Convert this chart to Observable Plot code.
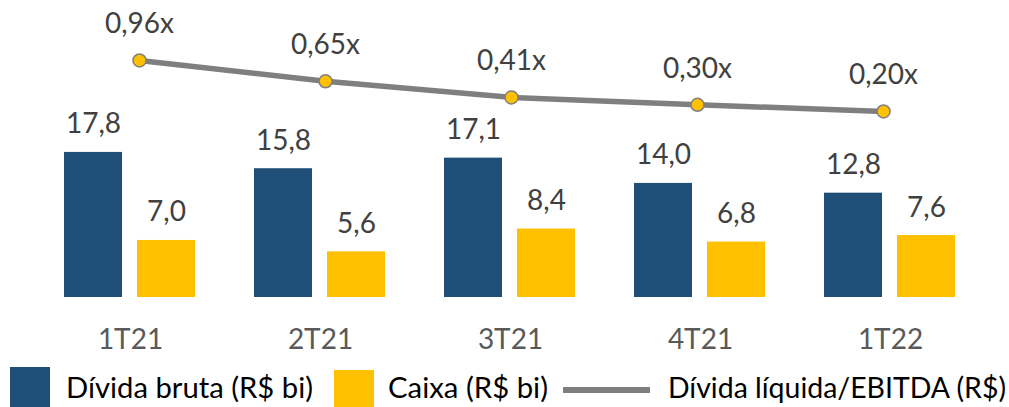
<!DOCTYPE html>
<html><head><meta charset="utf-8">
<script src="https://cdn.jsdelivr.net/npm/d3@7"></script>
<script src="https://cdn.jsdelivr.net/npm/@observablehq/plot@0.6"></script>
<style>
body{margin:0;background:#fff;font-family:Lato, sans-serif;}
#wrap{position:relative;width:1009px;height:407px;overflow:hidden;background:#fff;}
#wrap svg{position:absolute;left:0;top:0;}
.sw{position:absolute;}
.lt{position:absolute;top:367px;font-size:29px;color:#000;white-space:nowrap;line-height:40px;transform-origin:0 50%;}
</style></head><body><div id="wrap"></div>
<script>
const periods = ["1T21","2T21","3T21","4T21","1T22"];
const series = ["Dívida bruta (R$ bi)","Caixa (R$ bi)"];
const dividaBruta = [17.8,15.8,17.1,14.0,12.8];
const caixa = [7.0,5.6,8.4,6.8,7.6];
const alavancagem = [0.96,0.65,0.41,0.30,0.20];
const lineLabel = "Dívida líquida/EBITDA (R$)";
const colors = ["#1F4E79","#FFC000"];
const lineColor = "#7F7F7F";

const fmt = v => v.toFixed(1).replace(".", ",");
const fmtX = v => v.toFixed(2).replace(".", ",") + "x";

const bars = periods.flatMap((p,i)=>[
  {period:p, serie:series[0], value:dividaBruta[i]},
  {period:p, serie:series[1], value:caixa[i]}
]);
const line = periods.map((p,i)=>({period:p, value:alavancagem[i]}));

const W = 1009, H = 360;
const baseStyle = {fontFamily:"Lato, sans-serif", fontSize:"28px", background:"transparent", overflow:"visible", color:"#595959"};

const barPlot = Plot.plot({
  width:W, height:H, marginLeft:35, marginRight:24, marginTop:134, marginBottom:63,
  style:baseStyle,
  fx:{domain:periods, paddingInner:0, paddingOuter:0, label:null, axis:"bottom", tickSize:0, tickPadding:32},
  x:{domain:series, paddingInner:0.204, paddingOuter:0.3946, axis:null},
  y:{domain:[0,20], axis:null},
  color:{domain:series, range:colors},
  facet:{marginTop:0, marginBottom:0, marginLeft:0, marginRight:0},
  marks:[
    Plot.barY(bars,{fx:"period", x:"serie", y:"value", fill:"serie"}),
    Plot.text(bars,{fx:"period", x:"serie", y:"value", text:d=>fmt(d.value), lineAnchor:"bottom", dy:-19, fill:"#404040"})
  ]
});

const linePlot = Plot.plot({
  width:W, height:H, marginLeft:44.6, marginRight:30.6, marginTop:57.3, marginBottom:235.6,
  style:baseStyle,
  x:{type:"point", domain:periods, padding:0.5, axis:null},
  y:{domain:[0,1], axis:null},
  marks:[
    Plot.line(line,{x:"period", y:"value", stroke:lineColor, strokeWidth:5.5}),
    Plot.dot(line,{x:"period", y:"value", r:6.5, fill:"#FFC000", stroke:lineColor, strokeWidth:1.5}),
    Plot.text(line,{x:"period", y:"value", text:d=>fmtX(d.value), lineAnchor:"bottom", dy:-27, fill:"#404040"})
  ]
});

const wrap = document.getElementById("wrap");
wrap.appendChild(barPlot);
wrap.appendChild(linePlot);

// legend (HTML, below the chart)
const legendItems = [
  {color:colors[0], label:series[0], sx:10, sy:367, sw:40, sh:40, tx:66, tw:247},
  {color:colors[1], label:series[1], sx:334, sy:370, sw:40, sh:37, tx:388, tw:160},
  {color:lineColor, label:lineLabel, sx:563, sy:387, sw:87, sh:6, tx:668, tw:338}
];
for (const it of legendItems) {
  const s = document.createElement("div");
  s.className = "sw";
  Object.assign(s.style, {left:it.sx+"px", top:it.sy+"px", width:it.sw+"px", height:it.sh+"px", background:it.color});
  wrap.appendChild(s);
  const t = document.createElement("div");
  t.className = "lt";
  t.style.left = it.tx + "px";
  t.textContent = it.label;
  wrap.appendChild(t);
  const w = t.getBoundingClientRect().width;
  if (w > 0) t.style.transform = `scaleX(${it.tw / w})`;
}
</script></body></html>
